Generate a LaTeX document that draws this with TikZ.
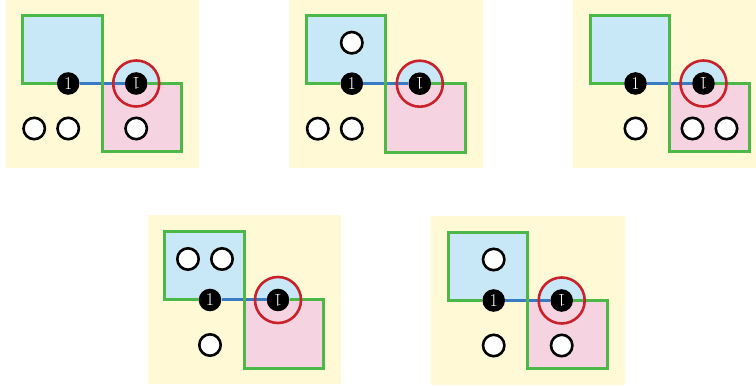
\documentclass[tikz,border=0pt]{standalone}
\usepackage{fontspec}
\usepackage{tikz}
\usetikzlibrary{positioning}

\definecolor{bgyellow}{HTML}{FFF9D6}
\definecolor{cellblue}{HTML}{C8E8F8}
\definecolor{cellpink}{HTML}{F6D3E1}
\definecolor{edgegreen}{HTML}{4CB848}
\definecolor{bondblue}{HTML}{3A7AC2}
\definecolor{ringred}{HTML}{C9222B}

\begin{document}
\begin{tikzpicture}[
    x=1pt, y=-1pt,
    panelbg/.style={fill=bgyellow},
    upperbox/.style={fill=cellblue},
    lowerbox/.style={fill=cellpink},
    outline/.style={draw=edgegreen, line width=3pt},
    bond/.style={draw=bondblue, line width=3pt},
    site/.style={circle, fill=black, inner sep=0pt, minimum size=22.6pt, text=white, font=\fontsize{18}{18}\selectfont},
    ring/.style={draw=ringred, line width=2.6pt},
    hole/.style={circle, draw=black, fill=white, line width=2.6pt, inner sep=0pt, minimum size=21.4pt},
    node distance=34pt, on grid,
]

\useasboundingbox (0,0) rectangle (756,387);

% === Five panels, same frame ===
\foreach \p/\px/\py in {A/22.7/15.5, B/306.3/15.7, C/590/15.5, D/164.5/232, E/448.2/232.5} {
\begin{scope}[shift={(\px,\py)}]
    % background and cells
    \fill[panelbg] (-17,-16.5) rectangle (176.5,152.5);
    \fill[upperbox] (0,0) rectangle (79.5,68);
    \fill[cellblue] (113.5,68) circle[radius=23pt];
    \fill[lowerbox] (79.5,68) rectangle (159,136.5);

    % the two sites
    \node[site] (\p l) at (45.5,68) {1};
    \node[site] (\p r) at (113.5,68) {\rotatebox[origin=c]{180}{1}};

    % bond and cell edges
    \draw[bond] (\p l) -- (\p r);
    \draw[outline] (\p l.west) -- (0,68) -- (0,0) -- (79.5,0) -- (79.5,136.5)
        -- (159,136.5) -- (159,68) -- (\p r.east);

    % marked site
    \draw[ring] (\p r) circle[radius=23pt];
\end{scope}
}

% === Empty circles ===

% panel A
\node[hole, below=45pt of Al] (A1) {};
\node[hole, left=of A1] (A2) {};
\node[hole, below=45pt of Ar] (A3) {};

% panel B
\node[hole, above=41pt of Bl] (B1) {};
\node[hole, below=45pt of Bl] (B2) {};
\node[hole, left=of B2] (B3) {};

% panel C
\node[hole, below=45pt of Cl] (C1) {};
\node[hole, below left=45pt and 11pt of Cr] (C2) {};
\node[hole, right=of C2] (C3) {};

% panel D
\node[hole, above left=41pt and 22pt of Dl] (D1) {};
\node[hole, right=of D1] (D2) {};
\node[hole, below=45pt of Dl] (D3) {};

% panel E
\node[hole, above=41pt of El] (E1) {};
\node[hole, below=45pt of El] (E2) {};
\node[hole, below=45pt of Er] (E3) {};

\end{tikzpicture}
\end{document}
